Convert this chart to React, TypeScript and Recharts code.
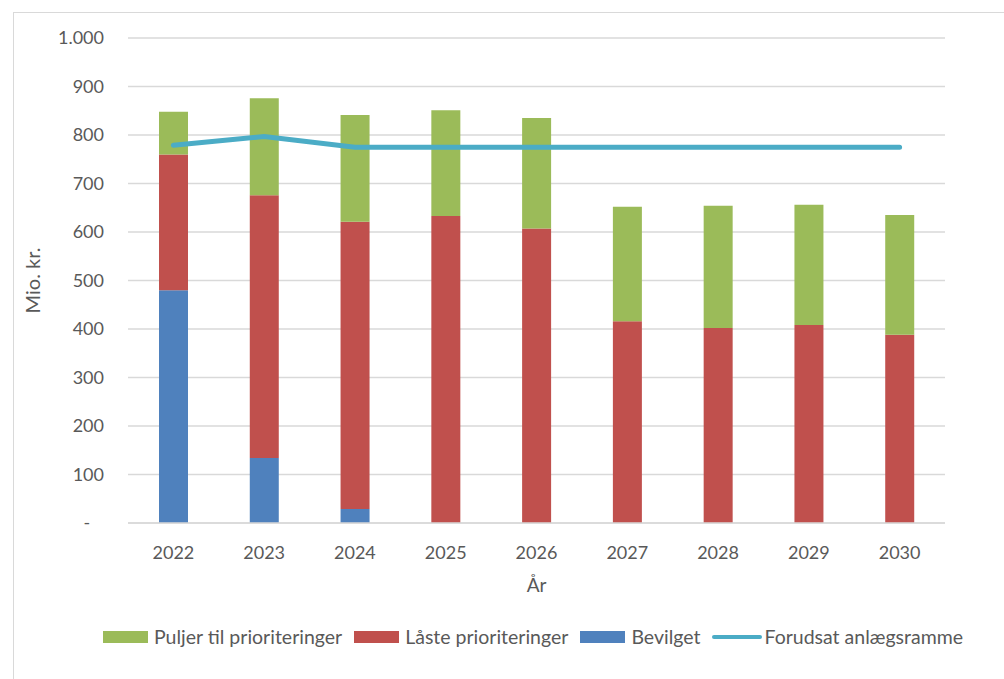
import React from 'react';
import { ComposedChart, Bar, Line, XAxis, YAxis, CartesianGrid, Legend } from 'recharts';

const years = ['2022', '2023', '2024', '2025', '2026', '2027', '2028', '2029', '2030'];
const bevilget = [480, 134, 29, 0, 0, 0, 0, 0, 0];
const laaste = [280, 542, 592, 633, 607, 416, 402, 408, 388];
const puljer = [88, 200, 220, 218, 228, 236, 252, 248, 247];
const ramme = [779, 797, 775, 775, 775, 775, 775, 775, 775];
const yTicks = [0, 100, 200, 300, 400, 500, 600, 700, 800, 900, 1000];

const GREEN = '#9bbb59';
const RED = '#c0504d';
const BLUE = '#4f81bd';
const LINE = '#4bacc6';
const TEXT = '#595959';
const GRID = '#d9d9d9';
const FONT = 'Lato, "Open Sans", sans-serif';

const data = years.map((year, i) => ({
  year,
  bevilget: bevilget[i],
  laaste: laaste[i],
  puljer: puljer[i],
  ramme: ramme[i],
}));

const formatY = (v: number) => {
  if (v === 0) return '-\u00a0\u00a0\u00a0';
  if (v >= 1000) return `${Math.floor(v / 1000)}.${String(v % 1000).padStart(3, '0')}`;
  return String(v);
};

const legendItems = [
  { label: 'Puljer til prioriteringer', color: GREEN, type: 'rect' },
  { label: 'Låste prioriteringer', color: RED, type: 'rect' },
  { label: 'Bevilget', color: BLUE, type: 'rect' },
  { label: 'Forudsat anlægsramme', color: LINE, type: 'line' },
];

const ChartLegend = () => (
  <div style={{ display: 'flex', alignItems: 'center', paddingLeft: 103, fontFamily: FONT, fontSize: 19.5, color: TEXT }}>
    {legendItems.map(item => (
      <div key={item.label} style={{ display: 'flex', alignItems: 'center', marginRight: 12 }}>
        {item.type === 'rect' ? (
          <span style={{ display: 'inline-block', width: 45, height: 12, background: item.color }} />
        ) : (
          <span style={{ display: 'inline-block', width: 50, height: 4, borderRadius: 2, background: item.color }} />
        )}
        <span style={{ marginLeft: item.type === 'rect' ? 6 : 2 }}>{item.label}</span>
      </div>
    ))}
  </div>
);

const App: React.FC = () => {
  return (
    <div style={{ position: 'absolute', left: 0, top: 0, width: 1004, height: 679, overflow: 'hidden', background: '#fff' }}>
      <div style={{ position: 'absolute', left: 13, top: 12, width: 1020, height: 700, border: `1px solid ${GRID}` }} />
      <div style={{ position: 'absolute', left: 0, top: 0 }}>
        <ComposedChart
          width={1004}
          height={679}
          data={data}
          margin={{ top: 38, right: 59, left: 28, bottom: 76 }}
        >
          <CartesianGrid vertical={false} stroke={GRID} strokeWidth={1.5} />
          <XAxis
            dataKey="year"
            height={80}
            axisLine={{ stroke: GRID, strokeWidth: 1.5 }}
            tickLine={false}
            tickMargin={17}
            tick={{ fill: TEXT, fontSize: 18, fontFamily: FONT }}
            label={{ value: 'År', position: 'insideBottom', offset: 11, fill: TEXT, fontSize: 19, fontFamily: FONT }}
          />
          <YAxis
            width={100}
            domain={[0, 1000]}
            ticks={yTicks}
            interval={0}
            axisLine={false}
            tickLine={false}
            tickMargin={18}
            tickFormatter={formatY}
            tick={{ fill: TEXT, fontSize: 18, fontFamily: FONT }}
            label={{
              value: 'Mio. kr.',
              angle: -90,
              position: 'insideLeft',
              offset: 5,
              fill: TEXT,
              fontSize: 20,
              fontFamily: FONT,
              style: { textAnchor: 'middle' },
            }}
          />
          <Legend
            verticalAlign="middle"
            align="center"
            content={<ChartLegend />}
            wrapperStyle={{ top: 625, left: 0, width: 1004, height: 26 }}
          />
          <Bar dataKey="bevilget" stackId="a" fill={BLUE} barSize={29} isAnimationActive={false} />
          <Bar dataKey="laaste" stackId="a" fill={RED} barSize={29} isAnimationActive={false} />
          <Bar dataKey="puljer" stackId="a" fill={GREEN} barSize={29} isAnimationActive={false} />
          <Line
            dataKey="ramme"
            type="linear"
            stroke={LINE}
            strokeWidth={5}
            strokeLinecap="round"
            dot={false}
            activeDot={false}
            isAnimationActive={false}
          />
        </ComposedChart>
      </div>
    </div>
  );
};

export default App;
